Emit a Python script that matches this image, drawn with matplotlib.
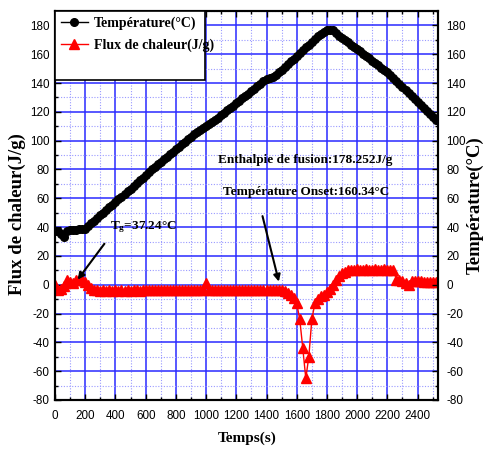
import matplotlib.pyplot as plt
from matplotlib.ticker import MultipleLocator
from matplotlib.patches import Rectangle

plt.rcParams['mathtext.fontset'] = 'custom'
plt.rcParams['mathtext.rm'] = 'Liberation Serif:bold'
plt.rcParams['mathtext.it'] = 'Liberation Serif:bold'
plt.rcParams['mathtext.bf'] = 'Liberation Serif:bold'
plt.rcParams['axes.unicode_minus'] = False

# time axis, one reading every 20 s
temps = list(range(0, 2521, 20))

# heat flux (J/g)
flux = [0, -4, -3, -1, 3, 2, 1, 3, 3, 3, 2, 0, -2, -3.5,
        -4, -4.2, -4, -4.1, -4, -4.2, -4, -4.1, -4, -4.2, -4, -4.1, -4, -4, -4.1, -4, -4,
        -3.8, -3.9, -3.8, -3.8, -3.9, -3.8, -3.8, -3.9, -3.8, -3.8, -3.9, -3.8, -3.8, -3.9,
        -3.8, -3.8, -3.9, -3.8, -3.6,
        1.5,
        -3.5, -3.6, -3.5, -3.5, -3.6, -3.5, -3.5, -3.6, -3.5, -3.5, -3.6, -3.5,
        -3.5, -3.6, -3.5, -3.5, -3.6, -3.5, -3.5, -3.6, -3.5, -3.5, -3.6, -3.5,
        -4, -4.5, -5.5, -7, -9, -13, -24, -44, -65, -50, -24, -13, -10, -8, -7, -5,
        -3, 0, 3, 6, 8, 9, 10,
        10.5, 10.5, 10.6, 10.5, 10.5, 10.6, 10.5, 10.5, 10.6, 10.5, 10.5, 10.6, 10.5, 10.5, 10.4,
        3.5, 3, 2.5, 1, 0, 2.5, 2.5, 2.5, 2.5, 2, 2, 2, 2, 2]

# temperature (°C)
temperature = [37, 37, 35, 33, 37, 38, 38, 38, 38.5, 38.5,
               39, 40.8, 42.7, 44.5, 46.3, 48.2, 50, 51.8, 53.7, 55.5,
               57.3, 59.2, 61, 62.9, 64.8, 66.7, 68.6, 70.5, 72.5, 74.4,
               76.3, 78.2, 80.1, 82, 83.7, 85.5, 87.2, 88.9, 90.7, 92.4,
               94.1, 95.8, 97.6, 99.3, 101, 102.8, 104.5, 106, 107.4, 108.8,
               110.3, 111.7, 113.2, 114.6, 116, 117.5, 119.5, 121.5, 122.5, 124.2,
               125.9, 127.6, 129.3, 131, 132.7, 134.4, 136.1, 137.8, 139.5, 141.2,
               142.5, 143.5, 144.5, 145.5, 147.4, 149.3, 151.3, 153.2, 155.1, 157,
               159, 160.9, 162.8, 164.7, 166.6, 168.6, 170.5, 172.4, 174.3, 175.5,
               176.5, 177, 176.5, 175, 173, 171.5, 169.9, 168.3, 166.7, 165.1,
               163.5, 161.9, 160.3, 158.7, 157.1, 155.5, 153.9, 152.3, 150.7, 149.1,
               147.5, 145.9, 143.8, 141.7, 139.6, 137.5, 135.4, 133.3, 131.2, 129.1,
               127, 124.9, 122.8, 120.7, 118.6, 116.5, 114.4]

serif = 'Liberation Serif'
sans = 'Liberation Sans'

fig = plt.figure(figsize=(4.83, 4.55), dpi=100)
ax = fig.add_axes([0.1139, 0.1209, 0.7929, 0.8549])
ax2 = ax.twinx()

l2, = ax.plot(temps, flux, color='red', lw=1, marker='^', ms=6.5, label='Flux de chaleur(J/g)')
l1, = ax2.plot(temps, temperature, color='black', lw=3, marker='o', ms=5.5, label='Température(°C)')

for a in (ax, ax2):
    a.set_xlim(0, 2535)
    a.set_ylim(-80, 190)
    a.yaxis.set_minor_locator(MultipleLocator(10))
    for s in a.spines.values():
        s.set_linewidth(1.5)
ax.xaxis.set_minor_locator(MultipleLocator(100))
ax.set_xticks(range(0, 2401, 200))
ax.set_yticks(range(-80, 181, 20))
ax2.set_yticks(range(-80, 181, 20))

ax.tick_params(which='both', direction='in', top=True, width=1)
ax.tick_params(which='major', length=4)
ax.tick_params(which='minor', length=2.5)
ax.tick_params(axis='y', pad=4)
ax.tick_params(axis='x', pad=7)
ax2.tick_params(which='both', direction='in', width=1)
ax2.tick_params(which='major', length=4, pad=6)
ax2.tick_params(which='minor', length=2.5)
for lab in ax.get_xticklabels() + ax.get_yticklabels() + ax2.get_yticklabels():
    lab.set_family(sans)
    lab.set_fontsize(8.4)

# blue grid
ax.set_axisbelow(True)
ax.grid(which='major', color='#2a2aff', lw=1.1)
ax.grid(which='minor', color='#9a9aff', lw=0.8, linestyle=(0, (1, 1.5)))

# labels
fig.text(0.511, 0.037, 'Temps(s)', ha='center', va='center',
         family=serif, fontweight='bold', fontsize=11)
fig.text(0.036, 0.53, 'Flux de chaleur(J/g)', rotation=90, ha='center', va='center',
         family=serif, fontweight='bold', fontsize=13.5)
fig.text(0.984, 0.55, 'Température(°C)', rotation=90, ha='center', va='center',
         family=serif, fontweight='bold', fontsize=13.5)

# annotations
ax2.text(364, 38.4, r'T$_{\rm g}$=37.24°C', family=serif, fontweight='bold', fontsize=9.5, va='baseline')
ax2.annotate('', xy=(139, 2), xytext=(338, 30),
             arrowprops=dict(arrowstyle='-|>', color='black', lw=1.5, mutation_scale=10))
ax2.text(1079, 84.5, 'Enthalpie de fusion:178.252J/g', family=serif, fontweight='bold',
         fontsize=9.5, va='baseline')
ax2.text(1115, 62.2, 'Température Onset:160.34°C', family=serif, fontweight='bold',
         fontsize=9.5, va='baseline')
ax2.annotate('', xy=(1486, 0.3), xytext=(1369, 49.5),
             arrowprops=dict(arrowstyle='-|>', color='black', lw=1.5, mutation_scale=10))

# legend box
box = Rectangle((0, 0.823), 0.392, 0.177, transform=ax2.transAxes, facecolor='white',
                edgecolor='black', lw=1.2, zorder=10)
ax2.add_patch(box)
leg = ax2.legend(handles=[l1, l2], loc='upper left', bbox_to_anchor=(0.0, 1.0), frameon=False,
                 prop={'family': serif, 'weight': 'bold', 'size': 10}, numpoints=1,
                 handlelength=2.0, borderaxespad=0.1, borderpad=0.3, labelspacing=0.6,
                 handletextpad=0.4)
for h in leg.legend_handles:
    h.set_linewidth(1)
leg.set_zorder(11)

plt.savefig('out.png', dpi=100)
